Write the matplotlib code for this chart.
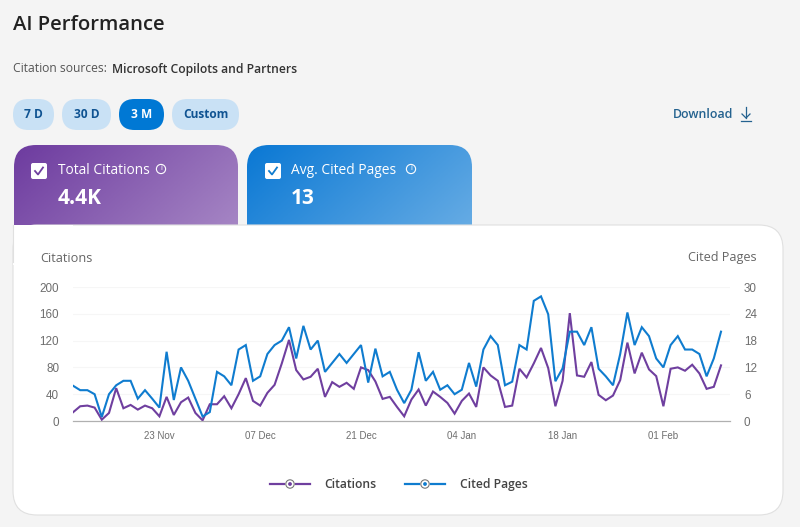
import numpy as np
import pandas as pd
import matplotlib
matplotlib.use('Agg')
import matplotlib.pyplot as plt
import matplotlib.dates as mdates
from matplotlib.colors import LinearSegmentedColormap
from matplotlib.patches import FancyBboxPatch, Rectangle, Circle
from matplotlib.lines import Line2D

citations = [13, 22, 23, 20, 2, 12, 49, 19, 24, 17, 23, 19, 7, 36, 9, 28, 35, 12, 1, 25,
             25, 37, 19, 40, 64, 30, 23, 42, 54, 86, 121, 76, 62, 66, 78, 36, 58, 51, 57, 48,
             80, 76, 59, 33, 36, 21, 7, 32, 47, 23, 44, 36, 27, 11, 30, 41, 21, 80, 68, 60,
             21, 23, 78, 65, 86, 109, 79, 22, 60, 161, 68, 66, 88, 39, 31, 38, 61, 117, 71, 102,
             77, 67, 22, 78, 80, 75, 84, 71, 48, 51, 83]
cited_pages = [7.9, 6.9, 6.9, 6, 0.9, 6, 8, 9, 9, 5, 6.9, 5, 3, 15.5, 4.7, 12, 9, 5, 1, 2,
               11, 10, 8, 16, 17, 9, 10, 15, 17, 18, 21, 14, 21.3, 16, 18, 11, 13, 15, 13, 15,
               17, 8.6, 16.2, 10, 11, 7, 4, 7, 15.4, 9, 11, 7, 8, 6, 7, 13, 7.7, 16, 19, 17,
               8, 8.8, 17, 16, 26.9, 27.9, 23.9, 8.9, 11.8, 20, 20, 17, 21, 11.7, 10, 8, 15, 24.3, 17, 21,
               19, 14, 12, 17, 19, 16, 16, 15, 10, 14, 20]
start_date = '2025-11-11'
range_buttons = ['7 D', '30 D', '3 M', 'Custom']
citation_ticks = [0, 40, 80, 120, 160, 200]
page_ticks = [0, 6, 12, 18, 24, 30]
date_ticks = ['2025-11-23', '2025-12-07', '2025-12-21', '2026-01-04', '2026-01-18', '2026-02-01']

PURPLE = '#6f3f9f'
BLUE = '#0f7ccf'
UI_FONT = ['Open Sans', 'DejaVu Sans']
CHART_FONT = 'Liberation Sans'
W, H = 800, 527

fig = plt.figure(figsize=(W / 100, H / 100), dpi=100, facecolor='#f4f4f4')

# page furniture lives on a full-size axes measured in pixels
ui = fig.add_axes([0, 0, 1, 1])
ui.set_xlim(0, W)
ui.set_ylim(H, 0)
ui.axis('off')


def rounded(x0, y0, x1, y1, r, **kw):
    p = FancyBboxPatch((x0 + r, y0 + r), x1 - x0 - 2 * r, y1 - y0 - 2 * r,
                       boxstyle=f'round,pad={r},rounding_size={r}', **kw)
    ui.add_patch(p)
    return p


def gradient_card(x0, x1, c0, c1):
    card = rounded(x0, 145, x1, 250, 22, fc='none', ec='none')
    cmap = LinearSegmentedColormap.from_list('card', [c0, c1])
    gx, gy = np.meshgrid(np.linspace(0, 1, 120), np.linspace(0, 1, 60))
    im = ui.imshow(0.72 * gx + 0.28 * gy, cmap=cmap, extent=(x0, x1, 225, 145),
                   aspect='auto', zorder=1)
    im.set_clip_path(card)
    ui.set_xlim(0, W)
    ui.set_ylim(H, 0)


def card_header(x_box, x_text, title, value, x_info, tick_color):
    ui.add_patch(FancyBboxPatch((x_box + 2, 165), 12, 12, boxstyle='round,pad=2,rounding_size=2',
                                fc='white', ec='none', zorder=3))
    ui.add_line(Line2D([x_box + 4, x_box + 7, x_box + 12], [171, 174.5, 167.5], color=tick_color, lw=1.3, zorder=4))
    ui.text(x_text, 171, title, color='white', fontsize=9.9, va='center', family=UI_FONT, zorder=4)
    ui.text(x_text, 199, value, color='white', fontsize=15, fontweight='bold', va='center', family=UI_FONT, zorder=4)
    ui.add_patch(Circle((x_info, 169), 4.6, fc='none', ec='white', lw=0.8, zorder=4))
    ui.text(x_info, 169, 'i', color='white', fontsize=5.5, ha='center', va='center', family=UI_FONT, zorder=4)


ui.text(13, 25, 'AI Performance', fontsize=14.6, fontweight='semibold', color='#222222', va='center', family=UI_FONT)
ui.text(13, 69, 'Citation sources:', fontsize=8.7, color='#555555', va='center', family=UI_FONT)
ui.text(112, 69, 'Microsoft Copilots and Partners', fontsize=8.7, fontweight='semibold', color='#333333',
        va='center', family=UI_FONT)

# range buttons
pill_spans = [(13, 54), (62, 111), (119, 164), (172, 239)]
for label, (x0, x1) in zip(range_buttons, pill_spans):
    active = label == '3 M'
    rounded(x0, 99, x1, 130, 15.5, fc='#0078d4' if active else '#c9e1f5', ec='none')
    ui.text((x0 + x1) / 2, 115, label, fontsize=8.6, fontweight='bold', ha='center', va='center',
            color='white' if active else '#0f5392', family=UI_FONT)

ui.text(673, 114, 'Download', fontsize=8.9, fontweight='semibold', color='#24628f', va='center', family=UI_FONT)
ui.add_line(Line2D([746, 746], [107, 118], color='#24628f', lw=0.9))
ui.add_line(Line2D([742, 746, 750], [114, 118, 114], color='#24628f', lw=0.9))
ui.add_line(Line2D([741, 751], [121, 121], color='#24628f', lw=0.9))

gradient_card(14, 238, '#6d3b9f', '#a585c4')
gradient_card(247, 472, '#0a78d4', '#65abe4')
card_header(31, 58, 'Total Citations', '4.4K', 161, PURPLE)
card_header(265, 291, 'Avg. Cited Pages', '13', 411, BLUE)

# white chart panel, square at the top-left where the tab sits on it
rounded(13, 225, 783, 515, 24, fc='white', ec='#e0e0e0', lw=0.8, zorder=2)
ui.add_patch(Rectangle((13, 225), 60, 40, fc='white', ec='none', zorder=2))
ui.add_line(Line2D([13, 13], [225, 262], color='#e0e0e0', lw=0.8, zorder=2))

ui.text(40, 258, 'Citations', fontsize=9.2, color='#666666', va='center', family=UI_FONT, zorder=3)
ui.text(757, 258, 'Cited Pages', fontsize=9.1, color='#666666', va='center', ha='right', family=UI_FONT, zorder=3)

# legend keys
for x0, x_text, color, label in [(270, 324, PURPLE, 'Citations'), (405, 460, BLUE, 'Cited Pages')]:
    ui.add_line(Line2D([x0, x0 + 14], [484, 484], color=color, lw=1.6, zorder=3))
    ui.add_line(Line2D([x0 + 26, x0 + 40], [484, 484], color=color, lw=1.6, zorder=3))
    ui.add_patch(Circle((x0 + 20, 484), 4.2, fc='white', ec='#777777', lw=0.8, zorder=3))
    ui.add_patch(Circle((x0 + 20, 484), 1.9, fc=color, ec='none', zorder=4))
    ui.text(x_text, 484.5, label, fontsize=8.7, fontweight='semibold', color='#444444', va='center', family=UI_FONT, zorder=3)

# the chart itself, left axis for citations and right axis for cited pages
dates = pd.date_range(start_date, periods=len(citations))
ax = fig.add_axes([73 / W, 1 - 421 / H, (730 - 73) / W, (421 - 287) / H], zorder=5)
ax.patch.set_alpha(0)
ax2 = ax.twinx()

ax.plot(dates, citations, color=PURPLE, lw=1.5, solid_joinstyle='miter', zorder=3)
ax2.plot(dates, cited_pages, color=BLUE, lw=1.5, solid_joinstyle='miter', zorder=4)

ax.set_xlim(dates[0], dates[0] + pd.Timedelta(days=91.25))
ax.set_ylim(0, 200)
ax2.set_ylim(0, 30)
ax.set_yticks(citation_ticks)
ax2.set_yticks(page_ticks)
ax.set_xticks(pd.to_datetime(date_ticks))
ax.xaxis.set_major_formatter(mdates.DateFormatter('%d %b'))
ax.grid(axis='y', color='#f6f6f6', lw=0.8)
ax.set_axisbelow(True)

for a in (ax, ax2):
    for name, spine in a.spines.items():
        spine.set_visible(name == 'bottom')
    a.spines['bottom'].set_color('#b0b0b0')
    a.spines['bottom'].set_linewidth(0.8)
    a.tick_params(axis='y', length=0, pad=10, labelsize=8.4, labelcolor='#6e6e6e')
    for t in a.get_yticklabels():
        t.set_family(CHART_FONT)
ax.tick_params(axis='x', length=0, pad=7, labelsize=7, labelcolor='#6e6e6e')
for t in ax.get_xticklabels():
    t.set_family(CHART_FONT)

fig.savefig('out.png', dpi=100, facecolor=fig.get_facecolor())
